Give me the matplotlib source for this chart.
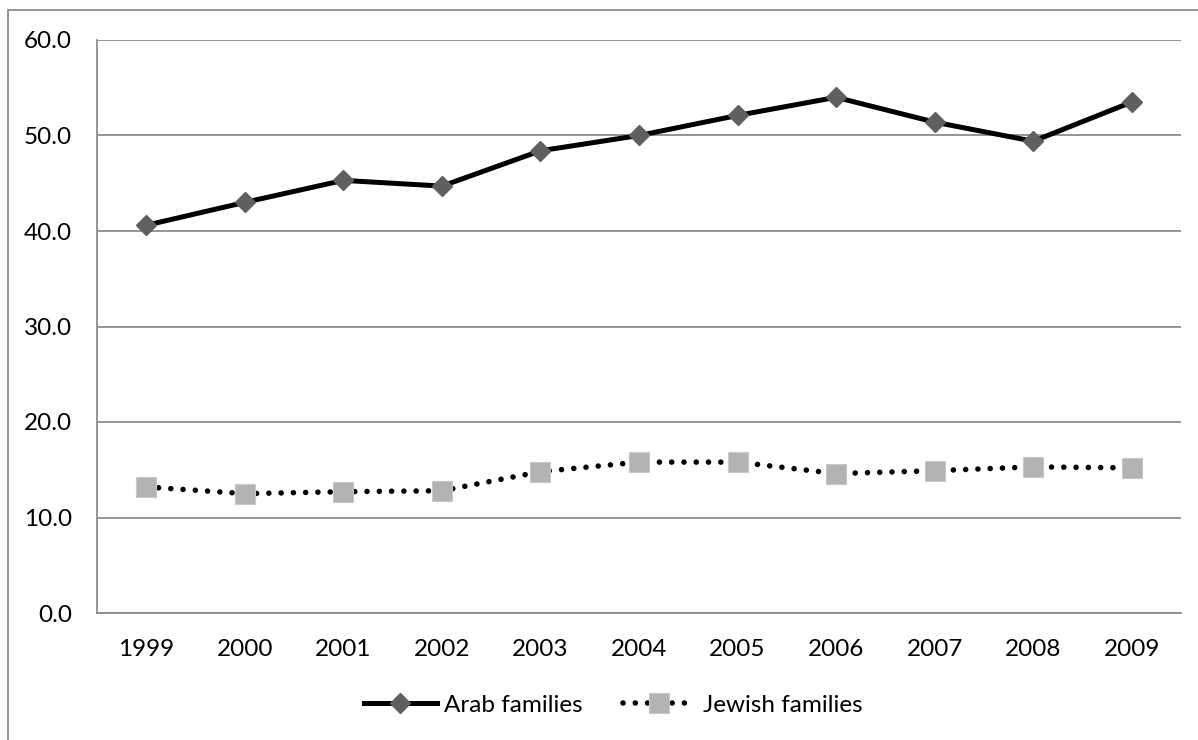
import matplotlib.pyplot as plt
from matplotlib.patches import Rectangle

years = ['1999', '2000', '2001', '2002', '2003', '2004', '2005', '2006', '2007', '2008', '2009']
arab = [40.6, 43.0, 45.3, 44.7, 48.4, 50.0, 52.1, 54.0, 51.4, 49.4, 53.5]
jewish = [13.2, 12.5, 12.7, 12.8, 14.8, 15.8, 15.8, 14.6, 14.9, 15.3, 15.2]

plt.rcParams['font.family'] = ['Lato', 'DejaVu Sans']
grid_col = '#8c8c8c'

fig = plt.figure(figsize=(11.98, 7.40), dpi=100)
ax = fig.add_axes([97 / 1198, 1 - 613 / 740, (1181 - 97) / 1198, (613 - 40) / 740])

x = list(range(len(years)))
ax.plot(x, arab, color='black', lw=3.6, marker='D', ms=9.7,
        mfc='#5f5f5f', mec='#5f5f5f', label='Arab families', zorder=3)
ax.plot(x, jewish, color='black', lw=4, linestyle=(0, (0.01, 2.2)),
        dash_capstyle='round', marker='s', ms=14,
        mfc='#b3b3b3', mec='#c8c8c8', mew=0.8, label='Jewish families', zorder=3)

ax.set_xlim(-0.5, len(years) - 0.5)
ax.set_ylim(0, 60)
ax.set_yticks(range(0, 61, 10))
ax.set_yticklabels([f'{v:.1f}' for v in range(0, 61, 10)])
ax.set_xticks(x)
ax.set_xticklabels(years)
ax.tick_params(length=0, labelsize=17.5, colors='black')
ax.tick_params(axis='y', pad=18)
ax.tick_params(axis='x', pad=19)

ax.grid(axis='y', color=grid_col, lw=1.3)
ax.set_axisbelow(True)
for s in ['top', 'right']:
    ax.spines[s].set_visible(False)
for s in ['left', 'bottom']:
    ax.spines[s].set_color(grid_col)
    ax.spines[s].set_linewidth(1.3)

fig.legend(loc='center', bbox_to_anchor=(613 / 1198, 1 - 705 / 740), ncol=2,
           frameon=False, fontsize=17.5, handlelength=3.0, handletextpad=0.3,
           columnspacing=1.65)

# outer chart frame
fig.add_artist(Rectangle((8 / 1198, -0.1), 1.5, 1.1 - 10 / 740, transform=fig.transFigure,
                         fill=False, ec=grid_col, lw=1.3))

fig.savefig('out.png', dpi=100)
